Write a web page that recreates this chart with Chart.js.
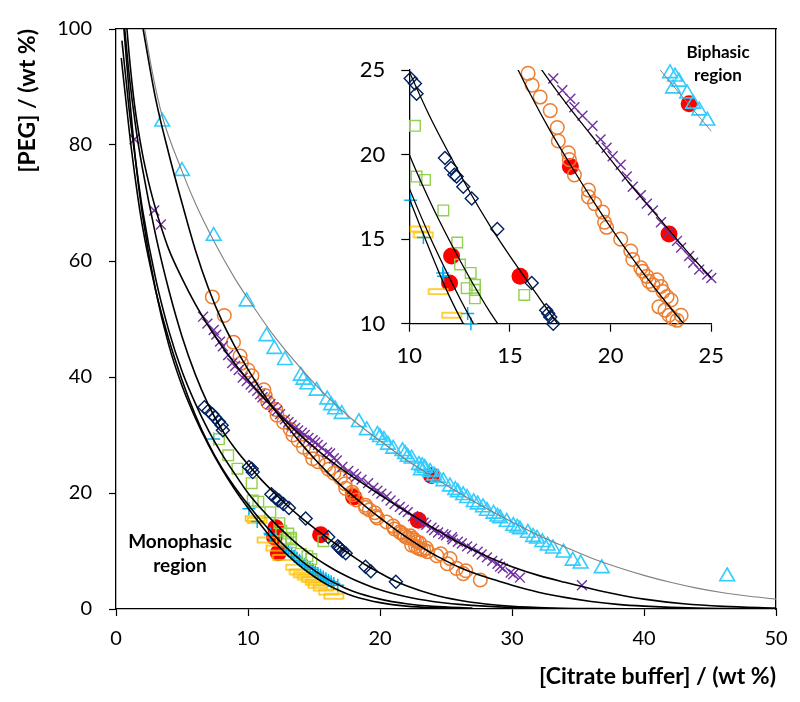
<!DOCTYPE html>
<html><head><meta charset="utf-8">
<script src="https://cdn.jsdelivr.net/npm/chart.js@4"></script>
<style>
html,body{margin:0;padding:0;background:#fff;}
#wrap{position:relative;width:800px;height:702px;overflow:hidden;}
canvas{position:absolute;}
.lbl{position:absolute;font-family:Lato,sans-serif;font-weight:bold;color:#000;text-align:center;}
</style></head><body>
<div id="wrap">
<canvas id="main" width="800" height="702" style="left:0;top:0"></canvas>
<canvas id="inset" width="440" height="340" style="left:340px;top:40px"></canvas>
<div class="lbl" style="left:110px;top:529px;width:140px;font-size:19px;line-height:24px;">Monophasic<br>region</div>
<div class="lbl" style="left:663px;top:40px;width:110px;font-size:17px;line-height:23px;">Biphasic<br>region</div>
</div>
<script>
// ---- data: [citrate wt%, PEG wt%] ----
const triangles = [[3.5,84],[5.0,75.5],[7.4,64.3],[9.9,53],[11.4,47],[12.0,44.8],[12.8,42.9],[14.0,40.2],[14.2,39.5],[14.5,38.7],[15.2,37.6],[16.0,36.1],[16.3,35.1],[16.6,34.4],[17.1,33.6],[18.4,32.2],[19.0,30.8],[19.8,30.0],[20.0,29.6],[20.3,29.1],[20.6,28.3],[21.0,27.6],[21.7,27.2],[21.9,26.7],[22.1,26.2],[22.4,25.9],[22.95,24.8],[23.2,24.6],[23.4,24.3],[23.1,23.9],[23.8,23.6],[24.1,23.0],[24.4,22.6],[24.8,22.0],[25.3,21.1],[25.7,20.5],[25.9,20.1],[26.3,19.6],[26.6,19.1],[27.1,18.4],[27.4,18.0],[27.8,17.5],[28.1,16.9],[28.6,16.4],[28.9,15.9],[29.1,15.6],[29.6,15.0],[30.1,14.3],[30.4,14.0],[30.6,13.7],[31.2,13.1],[31.6,12.4],[31.9,12.1],[32.3,11.5],[32.7,10.9],[33.1,10.4],[33.9,9.7],[34.6,8.3],[35.2,7.8],[36.8,7.0],[46.3,5.6]];
const crosses = [[1.4,81],[2.9,68.7],[3.4,66.3],[6.6,50.4],[6.92,49.2],[7.4,48.1],[7.6,47.3],[7.88,46.1],[8.1,45.3],[8.5,43.8],[8.8,42.4],[9.02,41.9],[9.3,41.2],[9.6,39.9],[9.91,39.3],[10.2,38.7],[10.41,38.2],[10.7,37.6],[10.92,37.0],[11.1,36.5],[11.42,35.9],[11.7,35.3],[11.93,34.8],[12.2,34.2],[12.43,33.6],[12.8,32.7],[13.07,32.2],[13.3,31.7],[13.57,31.2],[13.8,30.8],[14.08,30.4],[14.3,30.0],[14.58,29.5],[14.9,29.1],[15.09,28.7],[15.3,28.3],[15.59,27.8],[16.0,27.0],[16.22,26.8],[16.5,26.0],[16.73,25.6],[17.15,24.5],[17.6,23.8],[18.0,23.3],[18.2,22.8],[18.6,22.3],[19.1,21.7],[19.5,20.9],[19.8,20.4],[20.1,19.9],[20.5,19.4],[20.8,18.7],[21.1,18.1],[21.5,17.6],[21.8,17.1],[22.1,16.7],[22.5,16.0],[22.9,15.4],[23.3,14.9],[23.5,14.5],[23.9,14.0],[24.1,13.6],[24.4,13.2],[24.8,12.9],[25.0,12.7],[25.45,12.4],[25.5,12.0],[25.9,11.6],[26.2,11.3],[26.6,10.8],[26.97,10.4],[27.4,9.9],[27.7,9.4],[28.1,8.9],[28.5,8.3],[28.9,7.8],[29.1,7.3],[29.3,7.0],[29.9,6.3],[30.1,6.0],[30.6,5.4],[35.3,4.1]];
const circles = [[7.3,53.8],[8.2,50.6],[8.9,46.0],[9.4,43.6],[9.5,42.4],[10.0,41.2],[10.3,40.2],[11.2,37.8],[11.3,36.8],[11.5,35.6],[12.1,34.4],[12.2,33.4],[12.7,32.2],[13.2,31.0],[13.4,30.0],[13.8,29.1],[14.2,27.9],[14.7,27.1],[14.9,25.9],[15.3,25.4],[15.9,24.8],[16.1,24.1],[16.5,23.4],[17.0,22.6],[17.35,21.6],[17.4,20.8],[17.9,20.1],[17.95,19.7],[18.2,18.8],[18.9,17.9],[18.9,17.5],[19.2,17.1],[19.6,16.6],[19.7,16.0],[19.8,15.7],[20.5,15.0],[21.0,14.3],[21.1,13.8],[21.5,13.3],[21.6,13.1],[21.8,12.8],[21.9,12.5],[22.1,12.3],[22.3,12.6],[22.5,12.2],[22.6,11.9],[22.8,11.6],[23.0,11.4],[22.4,11.0],[22.7,10.8],[22.9,10.5],[23.1,10.3],[23.3,10.2],[23.5,10.5],[23.6,9.9],[24.3,9.2],[24.6,9.5],[25.1,7.8],[25.3,8.7],[25.8,7.0],[26.3,6.1],[26.5,6.6],[27.6,5.0]];
const diamonds = [[6.7,34.8],[7.0,34.2],[7.3,33.6],[7.5,33.0],[7.8,32.3],[8.0,31.7],[8.1,30.8],[10.07,24.5],[10.28,24.2],[10.36,23.6],[11.77,19.8],[12.07,19.2],[12.24,18.8],[12.35,18.7],[12.68,18.1],[13.1,17.4],[14.37,15.6],[16.08,12.4],[16.8,10.8],[16.9,10.6],[17.0,10.4],[17.15,10.0],[17.4,9.6],[18.9,7.3],[19.3,6.5],[21.2,4.7]];
const squares = [[7.8,29.3],[8.5,26.5],[9.2,24.2],[10.28,21.7],[10.36,18.7],[10.78,18.5],[11.69,16.7],[12.38,14.8],[12.52,13.5],[13.05,13.0],[12.85,12.1],[13.26,12.3],[13.26,12.0],[13.26,11.5],[15.71,11.7],[14.0,9.5],[14.5,9.1],[14.8,8.6]];
const plusses = [[7.4,29.3],[10.07,17.3],[10.7,15.1],[11.66,13.0],[11.7,12.8],[12.9,10.6],[13.06,10.0],[13.3,9.6],[13.5,9.1],[13.7,8.8],[13.9,8.4],[14.1,8.1],[14.3,7.7],[14.5,7.4],[14.7,7.1],[14.9,6.8],[15.1,6.4],[15.3,6.1],[15.5,5.8],[15.7,5.5],[15.9,5.2],[16.1,4.9],[16.3,4.7],[16.5,4.4],[16.8,4.1]];
const bars = [[10.53,15.6],[10.7,15.25],[11.44,11.9],[12.1,10.5],[12.6,8.9],[13.6,7.2],[13.9,6.4],[14.2,5.9],[14.5,5.5],[14.8,5.1],[15.1,4.6],[15.3,4.1],[15.7,3.6],[16.1,2.9],[16.5,2.2]];
const tiePoints = [[12.1,14.0],[12.0,12.4],[12.3,9.7],[15.5,12.8],[18.0,19.3],[22.9,15.3],[23.9,23.0]];

// fitted binodal curves
const fitGrey = [[2.17,100],[2.8,92],[3.5,85],[5.0,75.5],[6,70],[7.4,63.5],[9,57],[10,53.5],[12,47],[14,41.5],[16,36.6],[18,32.5],[20,29],[22,25.7],[24,22.8],[26,20.0],[28,17.4],[30,15.0],[32,12.7],[34,10.7],[36,8.8],[38,7.2],[40,5.8],[42,4.6],[44,3.6],[46,2.8],[48,2.2],[50,1.7]];
const fitOrange = [[2.05,100],[3,88],[4,78.5],[5,70],[6,62],[7,55.3],[8,49.8],[9,45.3],[10,41.3],[11,37.7],[12,34.4],[13,31.4],[14,28.6],[15,26.0],[16,23.6],[17,21.4],[18,19.4],[19,17.5],[20,15.7],[21,14.0],[22,12.4],[23,10.9],[24,9.5],[25,8.3],[26,7.2],[27,6.3],[28,5.5],[29,4.8],[30,4.1],[32,2.9],[34,2.0],[36,1.3],[38,0.8],[40,0.5],[44,0.15],[50,0.02]];
const fitPurple = [[0.83,100],[1,95.5],[1.4,87],[2,78.5],[2.5,73.3],[3,69],[3.4,66],[4,62],[5,57],[6,52.6],[7,48.8],[8,45.4],[9,42.3],[10,39.5],[11,36.9],[12,34.4],[13,32.1],[14,29.9],[15,27.9],[16,26.0],[17,24.3],[18,22.7],[19,21.2],[20,19.7],[21,18.2],[22,16.8],[23,15.4],[24,14.0],[25,12.7],[26,11.4],[27,10.3],[28,9.2],[29,8.2],[30,7.3],[32,5.8],[34,4.6],[36,3.5],[38,2.5],[40,1.7],[43,0.9],[46,0.45],[50,0.15]];
const fitNavy = [[0.66,100],[1,92],[1.5,83],[2,76],[3,64.5],[4,55],[5,47],[6,40.5],[7,35.2],[8,31.0],[9,27.7],[10,24.9],[11,22.3],[12,20.0],[13,17.8],[14,15.8],[15,14.0],[16,12.3],[17,10.6],[18,9.0],[19,7.5],[20,6.2],[21,5.0],[22,4.0],[24,2.5],[26,1.5],[28,0.85],[30,0.45],[33,0.18],[36,0.07],[40,0.02]];
const fitGreen = [[0.45,98],[1,86],[1.5,77],[2,69],[3,57],[4,48],[5,41],[6,35.5],[7,30.8],[8,26.8],[9,23.3],[10,20.0],[11,17.3],[12,14.9],[13,12.7],[14,10.7],[15,9.0],[16,7.5],[17,6.2],[18,5.1],[20,3.3],[22,2.1],[24,1.3],[26,0.8],[30,0.25],[35,0.05]];
const fitPlus = [[0.4,95],[1,82.5],[1.5,73.5],[2,66],[3,55],[4,46.5],[5,39.5],[6,33.5],[7,28.5],[8,24.4],[9,21.0],[10,18.0],[11,15.2],[12,12.7],[13,10.4],[14,8.4],[15,6.7],[16,5.2],[17,4.0],[18,3.0],[20,1.7],[22,0.9],[24,0.45],[27,0.15]];
const fitYellow = [[0.6,100],[1,89],[1.5,77],[2,68],[3,55],[4,45.5],[5,38.5],[6,33],[7,28.3],[8,24.2],[9,20.6],[10,17.4],[11,14.4],[12,11.6],[13,9.3],[14,7.3],[15,5.6],[16,4.2],[17,3.1],[18,2.2],[20,1.1],[22,0.5],[25,0.15]];

const mainXTicks = [0,10,20,30,40,50];
const mainYTicks = [0,20,40,60,80,100];
const insetTicks = [10,15,20,25];

// ---- helpers ----
const FONT = 'Lato, "Noto Sans", sans-serif';
const toPts = a => a.map(p => ({x:p[0], y:p[1]}));
const inInset = a => a.filter(p => p[0]>=9.95 && p[0]<=25.05 && p[1]>=9.95 && p[1]<=25.05);

const barImg = document.createElement('canvas');
barImg.width = 22; barImg.height = 9;
(function(){const g=barImg.getContext('2d');g.strokeStyle='#FFC000';g.lineWidth=1.5;g.strokeRect(1.5,2,19,5);})();

function fitSet(arr, color, w){
  return {data:toPts(arr), showLine:true, pointRadius:0, borderColor:color, borderWidth:w,
          cubicInterpolationMode:'monotone', fill:false};
}
function markerSets(filter, clip){
  const f = filter || (a=>a);
  const base = {showLine:false, clip: clip};
  return [
    Object.assign({data:toPts(f(triangles)), pointStyle:'triangle', pointRadius:8.5, borderColor:'#33CCFF', backgroundColor:'rgba(0,0,0,0)', pointBorderWidth:1.6}, base),
    Object.assign({data:toPts(f(crosses)), pointStyle:'crossRot', pointRadius:7, borderColor:'#7030A0', backgroundColor:'#7030A0', pointBorderWidth:1.4}, base),
    Object.assign({data:toPts(f(circles)), pointStyle:'circle', pointRadius:6.8, borderColor:'#ED7D31', backgroundColor:'rgba(0,0,0,0)', pointBorderWidth:1.5}, base),
    Object.assign({data:toPts(f(diamonds)), pointStyle:'rectRot', pointRadius:6.5, borderColor:'#002060', backgroundColor:'rgba(0,0,0,0)', pointBorderWidth:1.4}, base),
    Object.assign({data:toPts(f(squares)), pointStyle:'rect', pointRadius:7.5, borderColor:'#92D050', backgroundColor:'rgba(0,0,0,0)', pointBorderWidth:1.4}, base),
    Object.assign({data:toPts(f(plusses)), pointStyle:'cross', pointRadius:6.5, borderColor:'#00B0F0', backgroundColor:'#00B0F0', pointBorderWidth:1.5}, base),
    Object.assign({data:toPts(f(bars)), pointStyle:barImg, pointRadius:6, borderColor:'#FFC000'}, base),
    Object.assign({data:toPts(f(tiePoints)), pointStyle:'circle', pointRadius:8.5, borderColor:'#FF0000', backgroundColor:'#FF0000', pointBorderWidth:0}, base)
  ];
}

// ---- main chart ----
const tickFont = {family:FONT, size:20};
const titleFont = {family:FONT, size:23, weight:'bold'};
const axisGrid = {display:true, drawOnChartArea:false, drawTicks:true, tickLength:7, color:'#000', tickColor:'#000', tickWidth:1.2};

new Chart(document.getElementById('main'), {
  type:'scatter',
  data:{datasets:[
    fitSet(fitOrange,'#000',1.6), fitSet(fitPurple,'#000',1.6), fitSet(fitNavy,'#000',1.6),
    fitSet(fitGreen,'#000',1.6), fitSet(fitPlus,'#000',1.6), fitSet(fitYellow,'#000',1.6),
    fitSet(fitGrey,'#808080',1.1),
    ...markerSets(null, undefined)
  ]},
  options:{
    responsive:false, animation:false, devicePixelRatio:1,
    layout:{padding:{left:0, top:22, right:24, bottom:0}},
    plugins:{legend:{display:false}, tooltip:{enabled:false}},
    scales:{
      x:{type:'linear', position:'bottom', min:0, max:50,
         afterBuildTicks: s => { s.ticks = mainXTicks.map(v=>({value:v})); },
         ticks:{font:tickFont, color:'#000', padding:11, maxRotation:0},
         grid:axisGrid, border:{display:true, color:'#000', width:1.3},
         title:{display:true, text:'[Citrate buffer] / (wt %)', align:'end', font:titleFont, color:'#000', padding:{top:0,bottom:12}},
         afterFit: s => { s.height = 93; }},
      y:{type:'linear', position:'left', min:0, max:100,
         afterBuildTicks: s => { s.ticks = mainYTicks.map(v=>({value:v})); },
         ticks:{font:tickFont, color:'#000', padding:17},
         grid:axisGrid, border:{display:true, color:'#000', width:1.3},
         title:{display:true, text:'[PEG] / (wt %)', align:'end', font:titleFont, color:'#000', padding:{top:14,bottom:0}},
         afterFit: s => { s.width = 116; }},
      x2:{type:'linear', position:'top', min:0, max:50, ticks:{display:false}, grid:{display:false},
          border:{display:true, color:'#000', width:1.3}, afterFit: s => { s.height = 0; }},
      y2:{type:'linear', position:'right', min:0, max:100, ticks:{display:false}, grid:{display:false},
          border:{display:true, color:'#000', width:1.3}, afterFit: s => { s.width = 0; }}
    }
  }
});

// ---- inset chart ----
const insetFont = {family:FONT, size:22};
const insetGrid = {display:true, drawOnChartArea:false, drawTicks:true, tickLength:8, color:'#000', tickColor:'#000', tickWidth:1.2};
new Chart(document.getElementById('inset'), {
  type:'scatter',
  data:{datasets:[
    fitSet(fitOrange,'#000',1.3), fitSet(fitPurple,'#000',1.3), fitSet(fitNavy,'#000',1.3),
    fitSet(fitGreen,'#000',1.3), fitSet(fitPlus,'#000',1.3), fitSet(fitYellow,'#000',1.3),
    fitSet(fitGrey,'#808080',1.0),
    ...markerSets(inInset, false)
  ]},
  options:{
    responsive:false, animation:false, devicePixelRatio:1,
    layout:{padding:{left:0, top:30, right:68.7, bottom:0}},
    plugins:{legend:{display:false}, tooltip:{enabled:false}},
    scales:{
      x:{type:'linear', min:10, max:25,
         afterBuildTicks: s => { s.ticks = insetTicks.map(v=>({value:v})); },
         ticks:{font:insetFont, color:'#000', padding:11, maxRotation:0},
         grid:insetGrid, border:{display:true, color:'#000', width:1.3},
         afterFit: s => { s.height = 56.3; }},
      y:{type:'linear', min:10, max:25,
         afterBuildTicks: s => { s.ticks = insetTicks.map(v=>({value:v})); },
         ticks:{font:insetFont, color:'#000', padding:16},
         grid:insetGrid, border:{display:true, color:'#000', width:1.3},
         afterFit: s => { s.width = 69.3; }}
    }
  }
});
</script>
</body></html>
